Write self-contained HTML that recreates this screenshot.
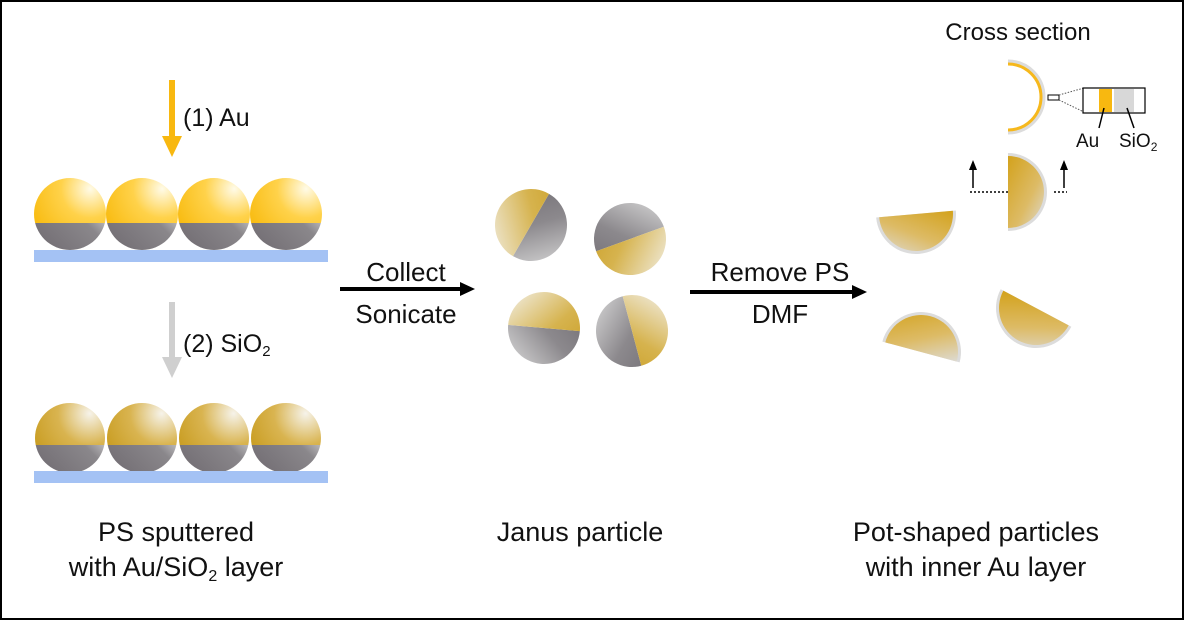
<!DOCTYPE html>
<html><head><meta charset="utf-8"><style>
html,body{margin:0;padding:0;background:#fff}
svg{display:block}
text{font-family:"Liberation Sans",sans-serif;fill:#111}
</style></head><body>
<svg width="1184" height="620" viewBox="0 0 1184 620" xmlns="http://www.w3.org/2000/svg">
<defs>
<radialGradient id="gold" cx="0.78" cy="0.15" r="0.9">
<stop offset="0" stop-color="#fffbe8"/><stop offset="0.45" stop-color="#ffd24a"/><stop offset="1" stop-color="#f8bb10"/></radialGradient>
<radialGradient id="gold2" cx="0.78" cy="0.15" r="0.9">
<stop offset="0" stop-color="#f6f3ea"/><stop offset="0.5" stop-color="#d9b450"/><stop offset="1" stop-color="#c99d22"/></radialGradient>
<linearGradient id="gray" x1="0" y1="1" x2="1" y2="0">
<stop offset="0" stop-color="#6f6a70"/><stop offset="0.55" stop-color="#8a878b"/><stop offset="0.85" stop-color="#e8e8e8"/><stop offset="1" stop-color="#bbb"/></linearGradient>
<linearGradient id="jg" x1="0" y1="0" x2="1" y2="1">
<stop offset="0" stop-color="#f2efe6"/><stop offset="0.55" stop-color="#d6b34e"/><stop offset="1" stop-color="#c99d22"/></linearGradient>
<linearGradient id="jgray" x1="1" y1="0" x2="0" y2="1">
<stop offset="0" stop-color="#6e6a70"/><stop offset="0.5" stop-color="#8c898d"/><stop offset="1" stop-color="#d8d8d8"/></linearGradient>
<linearGradient id="shell" x1="0" y1="0" x2="1" y2="1">
<stop offset="0" stop-color="#d3a21c"/><stop offset="0.6" stop-color="#ddbb66"/><stop offset="1" stop-color="#dddad2"/></linearGradient>
<linearGradient id="shellA" x1="1" y1="0" x2="0" y2="1">
<stop offset="0" stop-color="#d3a21c"/><stop offset="0.55" stop-color="#ddbb66"/><stop offset="1" stop-color="#dddad2"/></linearGradient>
<linearGradient id="shellB" x1="0" y1="0" x2="1" y2="1">
<stop offset="0" stop-color="#d3a21c"/><stop offset="0.55" stop-color="#ddbb66"/><stop offset="1" stop-color="#dddad2"/></linearGradient>
<clipPath id="top1"><rect x="0" y="0" width="1184" height="223"/></clipPath>
<clipPath id="bot1"><rect x="0" y="223" width="1184" height="100"/></clipPath>
<clipPath id="top2"><rect x="0" y="0" width="1184" height="445"/></clipPath>
<clipPath id="bot2"><rect x="0" y="445" width="1184" height="100"/></clipPath>
<clipPath id="jt"><rect x="-40" y="-40" width="80" height="40"/></clipPath>
<clipPath id="jb"><rect x="-40" y="0" width="80" height="40"/></clipPath>
</defs>
<rect x="1" y="1" width="1182" height="618" fill="#fff" stroke="#000" stroke-width="2"/>

<rect x="169" y="80" width="6" height="60" fill="#f8b810"/>
<path d="M162,136 L182,136 L172,157 Z" fill="#f8b810"/>
<text x="183" y="126" font-size="25">(1) Au</text>
<g clip-path="url(#top1)"><circle cx="70" cy="214" r="36" fill="url(#gold)"/><circle cx="142" cy="214" r="36" fill="url(#gold)"/><circle cx="214" cy="214" r="36" fill="url(#gold)"/><circle cx="286" cy="214" r="36" fill="url(#gold)"/></g>
<g clip-path="url(#bot1)"><circle cx="70" cy="214" r="36" fill="url(#gray)"/><circle cx="142" cy="214" r="36" fill="url(#gray)"/><circle cx="214" cy="214" r="36" fill="url(#gray)"/><circle cx="286" cy="214" r="36" fill="url(#gray)"/></g>
<rect x="34" y="250" width="294" height="12" fill="#a4c2f4"/>

<rect x="169" y="302" width="6" height="58" fill="#cfcfcf"/>
<path d="M162,357 L182,357 L172,378 Z" fill="#cfcfcf"/>
<text x="183" y="352" font-size="25">(2) SiO<tspan font-size="15" dy="4">2</tspan></text>
<g clip-path="url(#top2)"><circle cx="70" cy="438" r="35" fill="url(#gold2)"/><circle cx="142" cy="438" r="35" fill="url(#gold2)"/><circle cx="214" cy="438" r="35" fill="url(#gold2)"/><circle cx="286" cy="438" r="35" fill="url(#gold2)"/></g>
<g clip-path="url(#bot2)"><circle cx="70" cy="438" r="35" fill="url(#gray)"/><circle cx="142" cy="438" r="35" fill="url(#gray)"/><circle cx="214" cy="438" r="35" fill="url(#gray)"/><circle cx="286" cy="438" r="35" fill="url(#gray)"/></g>
<rect x="34" y="471" width="294" height="12" fill="#a4c2f4"/>
<text x="176" y="541" font-size="27" text-anchor="middle">PS sputtered</text>
<text x="176" y="576" font-size="27" text-anchor="middle">with  Au/SiO<tspan font-size="16" dy="5">2</tspan><tspan dy="-5"> layer</tspan></text>

<line x1="340" y1="289" x2="464" y2="289" stroke="#000" stroke-width="4"/>
<path d="M460,282 L475,289 L460,296 Z" fill="#000"/>
<text x="406" y="281" font-size="26" text-anchor="middle">Collect</text>
<text x="406" y="323" font-size="26" text-anchor="middle">Sonicate</text>

<g transform="translate(531,225) rotate(-60)"><circle r="36" fill="url(#jgray)" clip-path="url(#jb)"/><circle r="36" fill="url(#jg)" clip-path="url(#jt)"/></g>
<g transform="translate(630,239) rotate(160)"><circle r="36" fill="url(#jgray)" clip-path="url(#jb)"/><circle r="36" fill="url(#jg)" clip-path="url(#jt)"/></g>
<g transform="translate(544,328) rotate(5)"><circle r="36" fill="url(#jgray)" clip-path="url(#jb)"/><circle r="36" fill="url(#jg)" clip-path="url(#jt)"/></g>
<g transform="translate(632,331) rotate(75)"><circle r="36" fill="url(#jgray)" clip-path="url(#jb)"/><circle r="36" fill="url(#jg)" clip-path="url(#jt)"/></g>
<text x="580" y="541" font-size="27" text-anchor="middle">Janus particle</text>

<line x1="690" y1="292" x2="856" y2="292" stroke="#000" stroke-width="4"/>
<path d="M852,285 L867,292 L852,299 Z" fill="#000"/>
<text x="780" y="281" font-size="26" text-anchor="middle">Remove PS</text>
<text x="780" y="323" font-size="26" text-anchor="middle">DMF</text>

<text x="1018" y="40" font-size="24" text-anchor="middle">Cross section</text>
<path d="M1008,62 A35,35 0 0 1 1008,132" fill="none" stroke="#dcdcdc" stroke-width="5"/>
<path d="M1008,64 A33,33 0 0 1 1008,130" fill="none" stroke="#f6b81c" stroke-width="3"/>
<rect x="1048" y="95" width="11" height="5" fill="#fff" stroke="#000" stroke-width="1"/>
<line x1="1059" y1="95" x2="1084" y2="88" stroke="#555" stroke-dasharray="1.5,1.5"/>
<line x1="1059" y1="100" x2="1084" y2="112" stroke="#555" stroke-dasharray="1.5,1.5"/>
<rect x="1083" y="88" width="62" height="25" fill="#fff" stroke="#000" stroke-width="1.2"/>
<rect x="1099" y="89" width="13" height="23" fill="#f8b810"/>
<rect x="1114" y="89" width="20" height="23" fill="#d8d8d8"/>
<line x1="1104" y1="108" x2="1099" y2="128" stroke="#000" stroke-width="1.5"/>
<line x1="1127" y1="108" x2="1134" y2="128" stroke="#000" stroke-width="1.5"/>
<text x="1076" y="147" font-size="19">Au</text>
<text x="1119" y="147" font-size="19">SiO<tspan font-size="12" dy="4">2</tspan></text>

<path d="M1008,153 A39,39 0 0 1 1008,231 Z" fill="#dcdcdc"/>
<path d="M1008,156 A36,36 0 0 1 1008,228 Z" fill="url(#shell)"/>
<line x1="970" y1="192" x2="1008" y2="192" stroke="#000" stroke-width="1.5" stroke-dasharray="2,2"/>
<line x1="1054" y1="192" x2="1067" y2="192" stroke="#000" stroke-width="1.5" stroke-dasharray="2,2"/>
<line x1="973" y1="188" x2="973" y2="168" stroke="#000" stroke-width="1.5"/><path d="M969,170 L973,160 L977,170 Z" fill="#000"/>
<line x1="1064" y1="188" x2="1064" y2="168" stroke="#000" stroke-width="1.5"/><path d="M1060,170 L1064,160 L1068,170 Z" fill="#000"/>

<g transform="translate(916,214) rotate(-5)"><path d="M-40,0 A40,40 0 0 0 40,0 Z" fill="#dcdcdc"/><path d="M-37,0 A37,37 0 0 0 37,0 Z" fill="url(#shellA)"/></g>
<g transform="translate(921,352) rotate(15)"><path d="M-40,0 A40,40 0 0 1 40,0 Z" fill="#dcdcdc"/><path d="M-37,0 A37,37 0 0 1 37,0 Z" fill="url(#shellB)"/></g>
<g transform="translate(1036,308) rotate(28)"><path d="M-40,0 A40,40 0 0 0 40,0 Z" fill="#dcdcdc"/><path d="M-37,0 A37,37 0 0 0 37,0 Z" fill="url(#shellA)" transform="scale(-1,1)" /></g>

<text x="976" y="541" font-size="27" text-anchor="middle">Pot-shaped particles</text>
<text x="976" y="576" font-size="27" text-anchor="middle">with inner Au layer</text>
</svg>
</body></html>
